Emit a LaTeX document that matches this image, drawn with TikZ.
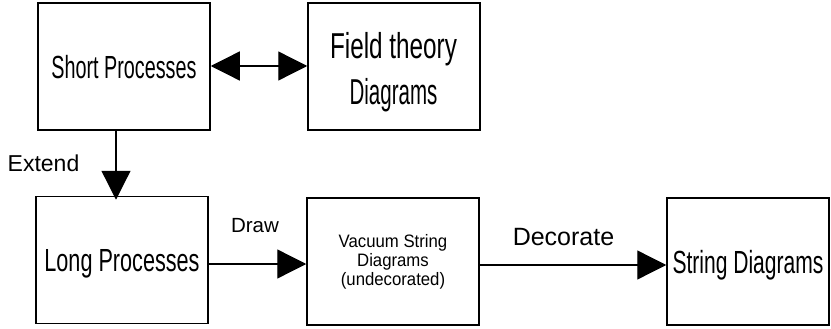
\documentclass[tikz,border=0pt]{standalone}
\usepackage{fontspec}
\setmainfont{Liberation Sans}
\usepackage{graphicx}
\usetikzlibrary{arrows.meta}

% horizontally condensed text for the box titles
\newcommand{\cond}[2]{\scalebox{#1}[1]{#2}}

\tikzset{
  stagebox/.style={draw=black, line width=1.5pt, rectangle, inner sep=0pt,
    align=center, minimum width=172pt, minimum height=127pt},
  bigtitle/.style={font=\fontsize{32}{38}\selectfont, text depth=0pt},
  flowline/.style={line width=1.3pt, -{Triangle[length=29pt,width=29pt]}},
  bothline/.style={line width=1.3pt, {Triangle[length=29pt,width=29pt]}-{Triangle[length=29pt,width=29pt]}},
  steplabel/.style={inner sep=0pt, anchor=center}
}

\begin{document}
\begin{tikzpicture}[x=1pt, y=-1pt]
  \useasboundingbox (0,0) rectangle (831,329);

  % boxes
  \node[stagebox, bigtitle] (short) at (124,66.5)
    {\cond{0.618}{Short Processes}};
  \node[stagebox] (field) at (394,66.5) {};
  \node[inner sep=0pt, align=center, font=\fontsize{36}{46}\selectfont] (fieldtext) at (393.5,72.5)
    {\cond{0.675}{Field theory}\\ \cond{0.57}{Diagrams}};
  \node[stagebox, bigtitle] (long) at (122,260)
    {\cond{0.676}{Long Processes}};
  \node[stagebox, font=\fontsize{18}{19}\selectfont] (vacuum) at (393,261.5)
    {\cond{0.93}{Vacuum String}\\ \cond{0.93}{Diagrams}\\ \cond{0.93}{(undecorated)}};
  \node[stagebox, bigtitle, minimum width=162pt] (string) at (748,261.5)
    {\cond{0.658}{String Diagrams}};

  % connectors
  \coordinate (downx) at (116,0);
  \coordinate (rowone) at (0,264);
  \coordinate (rowtwo) at (0,265);
  \coordinate (topy) at (0,66);

  \draw[bothline] (short.east |- topy) -- (field.west |- topy);
  \draw[flowline] (short.south -| downx) -- ([yshift=-4pt]long.north -| downx);
  \draw[flowline] (long.east |- rowone) -- (vacuum.west |- rowone);
  \draw[flowline] (vacuum.east |- rowtwo) -- (string.west |- rowtwo);

  % labels
  \node[steplabel, font=\fontsize{23}{27}\selectfont] (extend) at (43.5,163) {Extend};
  \node[steplabel, font=\fontsize{20.5}{24}\selectfont] (draw) at (255,226) {Draw};
  \node[steplabel, font=\fontsize{25}{30}\selectfont] (decorate) at (563.5,237) {Decorate};
\end{tikzpicture}
\end{document}
